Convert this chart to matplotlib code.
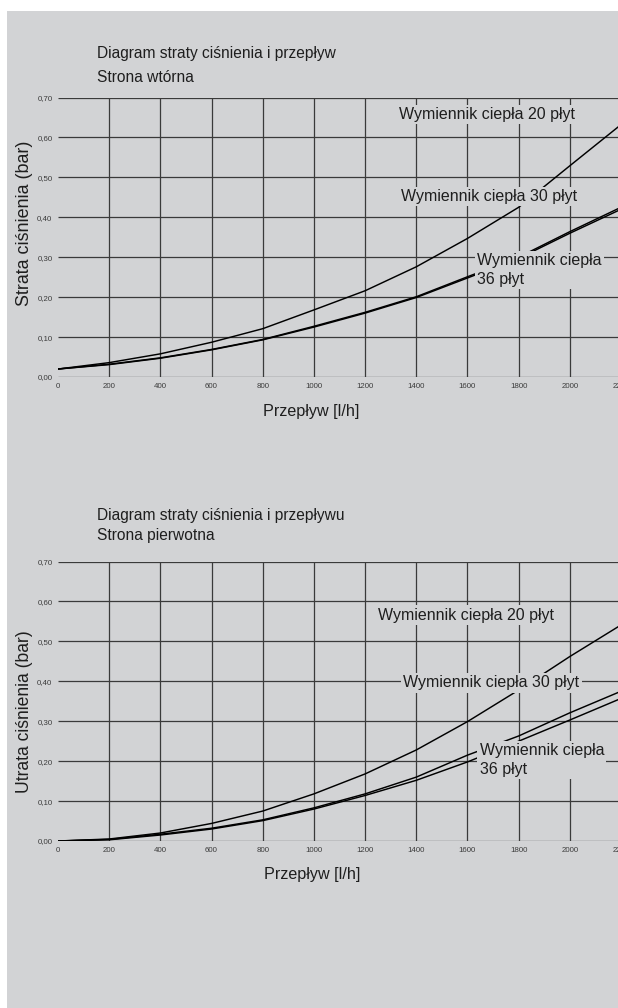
import matplotlib
matplotlib.use("Agg")
import matplotlib.pyplot as plt
import matplotlib.patches as mpatches
from matplotlib import font_manager

# Flow values (l/h) and pressure loss readings (bar)
flow = [0, 200, 400, 600, 800, 1000, 1200, 1400, 1600, 1800, 2000, 2200]

# secondary side
sec_20 = [0.020, 0.036, 0.058, 0.087, 0.121, 0.168, 0.216, 0.276, 0.347, 0.425, 0.529, 0.632]
sec_30 = [0.020, 0.032, 0.048, 0.069, 0.094, 0.127, 0.162, 0.201, 0.251, 0.300, 0.364, 0.425]
sec_36 = [0.020, 0.031, 0.047, 0.068, 0.093, 0.125, 0.160, 0.199, 0.248, 0.297, 0.360, 0.420]

# primary side
pri_20 = [0.000, 0.005, 0.020, 0.044, 0.075, 0.118, 0.168, 0.228, 0.299, 0.378, 0.462, 0.541]
pri_30 = [0.000, 0.004, 0.017, 0.032, 0.053, 0.083, 0.118, 0.160, 0.215, 0.263, 0.321, 0.375]
pri_36 = [0.000, 0.003, 0.015, 0.030, 0.051, 0.080, 0.114, 0.152, 0.198, 0.250, 0.303, 0.357]

y_ticks = [0.0, 0.1, 0.2, 0.3, 0.4, 0.5, 0.6, 0.7]
y_ticklabels = ["0,00", "0,10", "0,20", "0,30", "0,40", "0,50", "0,60", "0,70"]
x_ticks = flow

label_20 = "Wymiennik ciepła 20 płyt"
label_30 = "Wymiennik ciepła 30 płyt"
label_36 = "Wymiennik ciepła\n36 płyt"

# narrow font if there is one, otherwise shrink the regular one a bit
names = {f.name for f in font_manager.fontManager.ttflist}
if "Liberation Sans Narrow" in names:
    NARROW = "Liberation Sans Narrow"
    fs = 1.0
else:
    NARROW = "Liberation Sans"
    fs = 0.86

BG = "#d2d3d5"
GRID = "#3a3a3a"
TXT = "#1e1e1e"

W, H = 618, 1008
fig = plt.figure(figsize=(W / 100, H / 100), dpi=100)
fig.patch.set_facecolor("white")
# gray panel behind everything
fig.patches.append(mpatches.Rectangle((7 / W, 0), 1, (H - 11) / H,
                                      transform=fig.transFigure,
                                      facecolor=BG, edgecolor="none", zorder=-5))


def px(x, y):
    """pixel position in the picture -> figure fraction"""
    return x / W, 1 - y / H


def make_axes(top_px, bottom_px):
    l, b = px(58, bottom_px)
    r, t = px(621, top_px)
    ax = fig.add_axes([l, b, r - l, t - b])
    ax.set_facecolor("none")
    ax.set_xlim(0, 2200)
    ax.set_ylim(0, 0.70)
    for s in ax.spines.values():
        s.set_visible(False)
    ax.set_yticks(y_ticks)
    ax.set_yticklabels(y_ticklabels)
    ax.set_xticks(x_ticks)
    ax.set_xticklabels([str(v) for v in x_ticks])
    ax.tick_params(length=0, labelsize=5.7, labelcolor="#3c3c3c")
    ax.tick_params(axis="y", pad=4)
    ax.tick_params(axis="x", pad=4)
    for lab in ax.get_xticklabels() + ax.get_yticklabels():
        lab.set_fontfamily("Liberation Sans")
    ax.hlines(y_ticks, 0, 2200, color=GRID, lw=0.9, zorder=1)
    ax.vlines(x_ticks[1:-1], 0, 0.70, color=GRID, lw=0.9, zorder=1)
    return ax


def curve_label(ax, x, y, text):
    ax.text(x, y, text, ha="left", va="center", fontsize=13.4 * fs,
            family=NARROW, color=TXT, linespacing=1.35, zorder=4,
            bbox=dict(boxstyle="square,pad=0.14", facecolor=BG, edgecolor="none"))


# ---------------- secondary side ----------------
ax1 = make_axes(97.5, 377)
ax1.plot(flow, sec_20, color="black", lw=1.05, zorder=2)
ax1.plot(flow, sec_30, color="black", lw=1.05, zorder=2)
ax1.plot(flow, sec_36, color="black", lw=1.05, zorder=2)
curve_label(ax1, 1332, 0.657, label_20)
curve_label(ax1, 1342, 0.452, label_30)
curve_label(ax1, 1639, 0.268, label_36)

fig.text(*px(97, 58), "Diagram straty ciśnienia i przepływ", fontsize=13 * fs,
         family=NARROW, color=TXT, va="baseline")
fig.text(*px(97, 82), "Strona wtórna", fontsize=13 * fs,
         family=NARROW, color=TXT, va="baseline")
fig.text(*px(25, 223), "Strata ciśnienia (bar)", fontsize=15 * fs, rotation=90,
         family=NARROW, color=TXT, ha="center", va="center")
fig.text(*px(311, 416), "Przepływ [l/h]", fontsize=13.5 * fs,
         family=NARROW, color=TXT, ha="center", va="baseline")

# ---------------- primary side ----------------
ax2 = make_axes(561.5, 841)
ax2.plot(flow, pri_20, color="black", lw=1.05, zorder=2)
ax2.plot(flow, pri_30, color="black", lw=1.05, zorder=2)
ax2.plot(flow, pri_36, color="black", lw=1.05, zorder=2)
curve_label(ax2, 1251, 0.566, label_20)
curve_label(ax2, 1349, 0.396, label_30)
curve_label(ax2, 1648, 0.203, label_36)

fig.text(*px(97, 520), "Diagram straty ciśnienia i przepływu", fontsize=13 * fs,
         family=NARROW, color=TXT, va="baseline")
fig.text(*px(97, 540), "Strona pierwotna", fontsize=13 * fs,
         family=NARROW, color=TXT, va="baseline")
fig.text(*px(25, 712), "Utrata ciśnienia (bar)", fontsize=14.7 * fs, rotation=90,
         family=NARROW, color=TXT, ha="center", va="center")
fig.text(*px(312, 879), "Przepływ [l/h]", fontsize=13.5 * fs,
         family=NARROW, color=TXT, ha="center", va="baseline")

fig.savefig("out.png", dpi=100, facecolor=fig.get_facecolor())
